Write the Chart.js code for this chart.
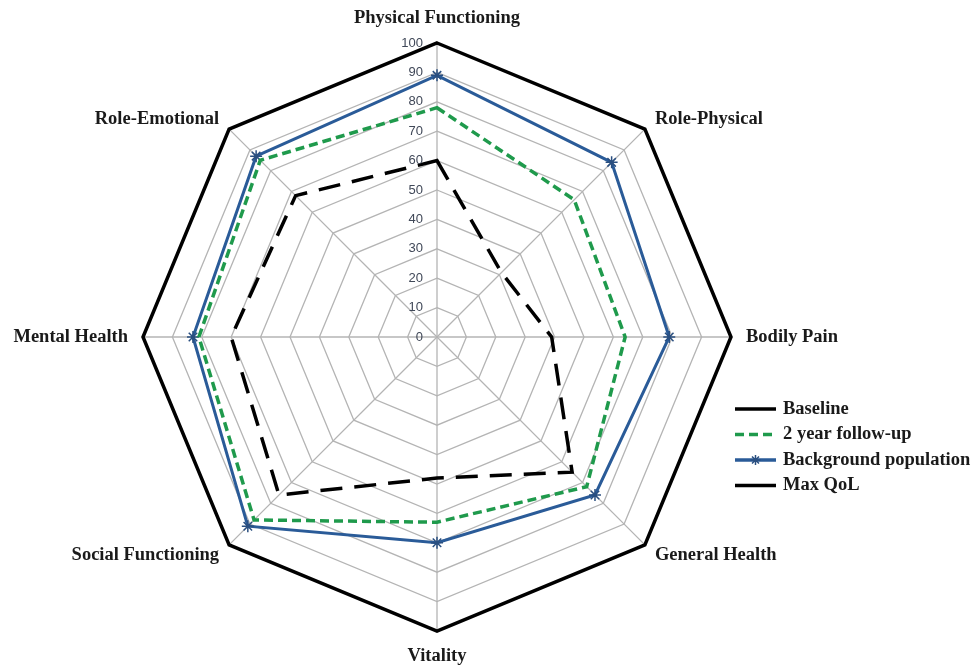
<!DOCTYPE html>
<html>
<head>
<meta charset="utf-8">
<script src="https://cdn.jsdelivr.net/npm/chart.js@4.4.1/dist/chart.umd.min.js"></script>
<style>
  html, body { margin: 0; padding: 0; background: #fff; }
  #wrap { width: 973px; height: 668px; position: relative; }
</style>
</head>
<body>
<div id="wrap"><canvas id="myChart" width="973" height="668"></canvas></div>
<script>
const domains = ["Physical Functioning", "Role-Physical", "Bodily Pain", "General Health",
                 "Vitality", "Social Functioning", "Mental Health", "Role-Emotional"];
const baseline = [60, 31, 39, 65, 48, 76, 70, 68];
const followUp = [78, 66, 64, 72, 63, 88, 81, 85];
const background = [89, 84, 79, 76, 70, 91, 83, 87];
const maxQoL = [100, 100, 100, 100, 100, 100, 100, 100];
const tickValues = [0, 10, 20, 30, 40, 50, 60, 70, 80, 90, 100];

const serif = '"Liberation Serif", "Times New Roman", serif';

// tick numbers sit to the left of the vertical axis, like in Excel
const tickLabels = {
    id: 'tickLabels',
    afterDatasetsDraw(chart) {
        const r = chart.scales.r;
        const ctx = chart.ctx;
        ctx.save();
        ctx.font = '13px "Liberation Sans", Arial, sans-serif';
        ctx.fillStyle = '#404858';
        ctx.textAlign = 'right';
        ctx.textBaseline = 'middle';
        tickValues.forEach(v => {
            const p = r.getPointPositionForValue(0, v);
            ctx.fillText(String(v), p.x - 14, p.y);
        });
        ctx.restore();
    }
};

// category names placed next to the outer corners, Excel style
const cornerLabels = {
    id: 'cornerLabels',
    afterDraw(chart) {
        const r = chart.scales.r;
        const ctx = chart.ctx;
        ctx.save();
        ctx.font = 'bold 18.5px ' + serif;
        ctx.fillStyle = '#1a1a1a';
        ctx.textBaseline = 'middle';
        chart.data.labels.forEach((lab, i) => {
            const p = r.getPointPosition(i, r.drawingArea);
            const dx = p.x - r.xCenter, dy = p.y - r.yCenter;
            let x = p.x, y = p.y;
            if (Math.abs(dx) < 1) {
                ctx.textAlign = 'center';
                y += Math.sign(dy) * 25;
            } else if (Math.abs(dy) < 1) {
                ctx.textAlign = dx > 0 ? 'left' : 'right';
                x += Math.sign(dx) * 15;
            } else {
                ctx.textAlign = dx > 0 ? 'left' : 'right';
                x += Math.sign(dx) * 10;
                y += Math.sign(dy) * 10;
            }
            ctx.fillText(lab, x, y);
        });
        ctx.restore();
    }
};

// legend drawn by hand at the lower right (the long baseline dash shows as one piece)
const sideLegend = {
    id: 'sideLegend',
    afterDraw(chart) {
        const ctx = chart.ctx;
        const x0 = 735, x1 = 776, y0 = 409, gap = 25.5;
        ctx.save();
        ctx.font = 'bold 18.5px ' + serif;
        ctx.textBaseline = 'middle';
        chart.data.datasets.forEach((ds, i) => {
            const y = y0 + i * gap;
            ctx.beginPath();
            ctx.setLineDash(i === 1 ? [9, 5] : []);
            ctx.strokeStyle = ds.borderColor;
            ctx.lineWidth = 3.5;
            ctx.moveTo(x0, y);
            ctx.lineTo(x1, y);
            ctx.stroke();
            ctx.setLineDash([]);
            if (ds.pointStyle === 'star') {
                ctx.lineWidth = 1.5;
                ctx.strokeStyle = ds.pointBorderColor;
                const cx = (x0 + x1) / 2, s = 5;
                ctx.beginPath();
                ctx.moveTo(cx - s, y); ctx.lineTo(cx + s, y);
                ctx.moveTo(cx, y - s); ctx.lineTo(cx, y + s);
                ctx.moveTo(cx - s * 0.7, y - s * 0.7); ctx.lineTo(cx + s * 0.7, y + s * 0.7);
                ctx.moveTo(cx - s * 0.7, y + s * 0.7); ctx.lineTo(cx + s * 0.7, y - s * 0.7);
                ctx.stroke();
            }
            ctx.fillStyle = '#1a1a1a';
            ctx.fillText(ds.label, x1 + 7, y);
        });
        ctx.restore();
    }
};

new Chart(document.getElementById('myChart'), {
    type: 'radar',
    data: {
        labels: domains,
        datasets: [
            {
                label: 'Baseline',
                data: baseline,
                borderColor: '#000000',
                backgroundColor: 'transparent',
                borderWidth: 3.5,
                borderDash: [22, 12],
                pointRadius: 0,
                fill: false
            }, {
                label: '2 year follow-up',
                data: followUp,
                borderColor: '#1f9a4c',
                backgroundColor: 'transparent',
                borderWidth: 3.5,
                borderDash: [9, 5],
                pointRadius: 0,
                fill: false
            }, {
                label: 'Background population',
                data: background,
                borderColor: '#2a5b98',
                backgroundColor: 'transparent',
                borderWidth: 3,
                pointStyle: 'star',
                pointRadius: 6,
                pointBorderWidth: 1.5,
                pointBorderColor: '#2a4f80',
                fill: false
            }, {
                label: 'Max QoL',
                data: maxQoL,
                borderColor: '#000000',
                backgroundColor: 'transparent',
                borderWidth: 3.5,
                pointRadius: 0,
                fill: false
            }]
    },
    options: {
        responsive: false,
        animation: false,
        devicePixelRatio: 1,
        layout: { padding: { left: 100, right: 199, top: 43, bottom: 37 } },
        elements: { line: { tension: 0 } },
        scales: {
            r: {
                min: 0,
                max: 100,
                ticks: { stepSize: 10, display: false },
                grid: { color: '#b4b4b4', lineWidth: 1.3, circular: false },
                angleLines: { color: '#b4b4b4', lineWidth: 1.3 },
                pointLabels: { display: false }
            }
        },
        plugins: {
            legend: { display: false },
            tooltip: { enabled: false }
        }
    },
    plugins: [tickLabels, cornerLabels, sideLegend]
});
</script>
</body>
</html>
